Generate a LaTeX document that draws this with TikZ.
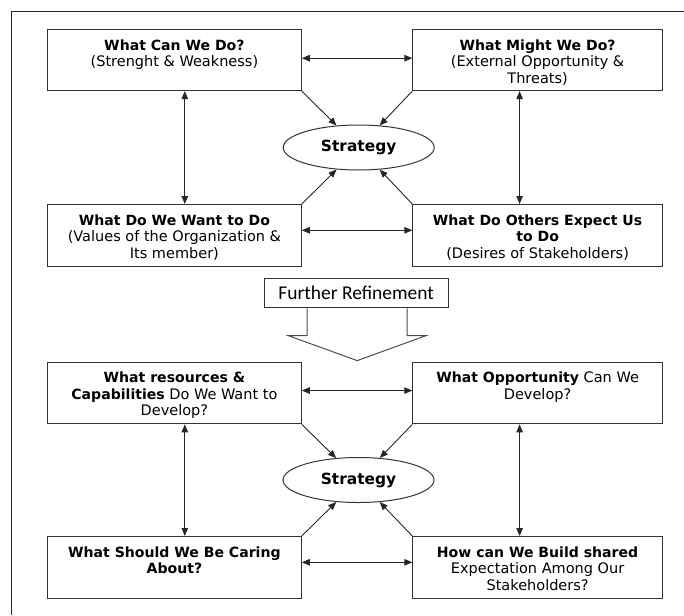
\documentclass[tikz,border=0pt]{standalone}
\usepackage{fontspec}
\setmainfont{DejaVu Sans}[BoldFeatures={Scale=0.97}]
\newfontfamily\calfont{Carlito}
\usetikzlibrary{shapes.geometric,arrows.meta}
\definecolor{edge}{HTML}{333333}
\newcommand{\boxtxt}[3]{\parbox[c][#2][t]{#1}{\centering\rule{0pt}{20.5pt}#3\par}}
\begin{document}
\begin{tikzpicture}[x=1pt,y=-1pt,
  box/.style={draw=edge, line width=1.1pt, inner sep=0pt, anchor=north west,
    font=\fontsize{14.5pt}{16.5pt}\selectfont},
  strat/.style={ellipse, draw=edge, line width=1pt, minimum width=151pt,
    minimum height=45pt, inner sep=0pt, font=\fontsize{15.9pt}{18pt}\selectfont\bfseries},
  arr/.style={{Triangle[length=8pt,width=6.5pt]}-{Triangle[length=8pt,width=6.5pt]},
    line width=0.9pt, draw=black!85},
  one/.style={-{Triangle[length=8pt,width=6.5pt]}, line width=0.9pt, draw=black!85}]
\useasboundingbox (0,0) rectangle (684,615);
\draw[line width=1pt, black!85] (11,615) -- (11,11.7) -- (684,11.7);

% row 1
\node[box] (a1) at (47,29.3) {\boxtxt{253.7pt}{60.7pt}{\textbf{What Can We Do?}\\(Strenght \& Weakness)}};
\node[box] (b1) at (412.3,29.3) {\boxtxt{249.5pt}{60.7pt}{\textbf{What Might We Do?}\\(External Opportunity \&\\Threats)}};
% row 2
\node[box] (a2) at (47,204) {\boxtxt{253.7pt}{61.5pt}{\textbf{What Do We Want to Do}\\(Values of the Organization \&\\Its member)}};
\node[box] (b2) at (412.3,204) {\boxtxt{249.5pt}{61.5pt}{\textbf{What Do Others Expect Us}\\\textbf{to Do}\\(Desires of Stakeholders)}};
\node[strat] (s1) at (358.7,147.5) {Strategy};

% refinement
\node[draw=edge, line width=1.1pt, minimum width=184pt, minimum height=29.5pt, inner sep=0pt,
  font=\calfont\fontsize{19.5pt}{22pt}\selectfont] (fr) at (356.2,293) {Further Refinement};
\draw[draw=black!70, line width=1pt] ([xshift=-49pt]fr.south) -- ++(0,27.3) -- ++(-19,0)
  -- ++(69,25) -- ++(69,-25) -- ++(-19,0) -- ++(0,-27.3);

% row 3
\node[box] (a3) at (47,361.7) {\boxtxt{253.7pt}{61.6pt}{\textbf{What resources \&}\\\textbf{Capabilities} Do We Want to\\Develop?}};
\node[box] (b3) at (412.3,361.7) {\boxtxt{249.5pt}{61.6pt}{\textbf{What Opportunity} Can We\\Develop?}};
% row 4
\node[box] (a4) at (47,536) {\boxtxt{253.7pt}{61.5pt}{\textbf{What Should We Be Caring}\\\textbf{About?}}};
\node[box] (b4) at (412.3,536) {\boxtxt{249.5pt}{61.5pt}{\textbf{How can We Build shared}\\Expectation Among Our\\Stakeholders?}};
\node[strat] (s2) at (358.5,480) {Strategy};

% connectors upper
\draw[arr] ([yshift=2pt]a1.east) -- ([yshift=2pt]b1.west);
\draw[arr] ([yshift=5pt]a2.east) -- ([yshift=5pt]b2.west);
\draw[arr] ([xshift=10.4pt]a1.south) -- ([xshift=10.4pt]a2.north);
\draw[arr] ([xshift=-18pt]b1.south) -- ([xshift=-18pt]b2.north);
\draw[one] (a1.south east) -- (s1);
\draw[one] (b1.south west) -- (s1);
\draw[one] (a2.north east) -- (s1);
\draw[one] (b2.north west) -- (s1);

% connectors lower
\draw[arr] ([yshift=2.5pt]a3.east) -- ([yshift=2.5pt]b3.west);
\draw[arr] ([yshift=5pt]a4.east) -- ([yshift=5pt]b4.west);
\draw[arr] ([xshift=10.4pt]a3.south) -- ([xshift=10.4pt]a4.north);
\draw[arr] ([xshift=-18pt]b3.south) -- ([xshift=-18pt]b4.north);
\draw[one] (a3.south east) -- (s2);
\draw[one] (b3.south west) -- (s2);
\draw[one] (a4.north east) -- (s2);
\draw[one] (b4.north west) -- (s2);
\end{tikzpicture}
\end{document}
